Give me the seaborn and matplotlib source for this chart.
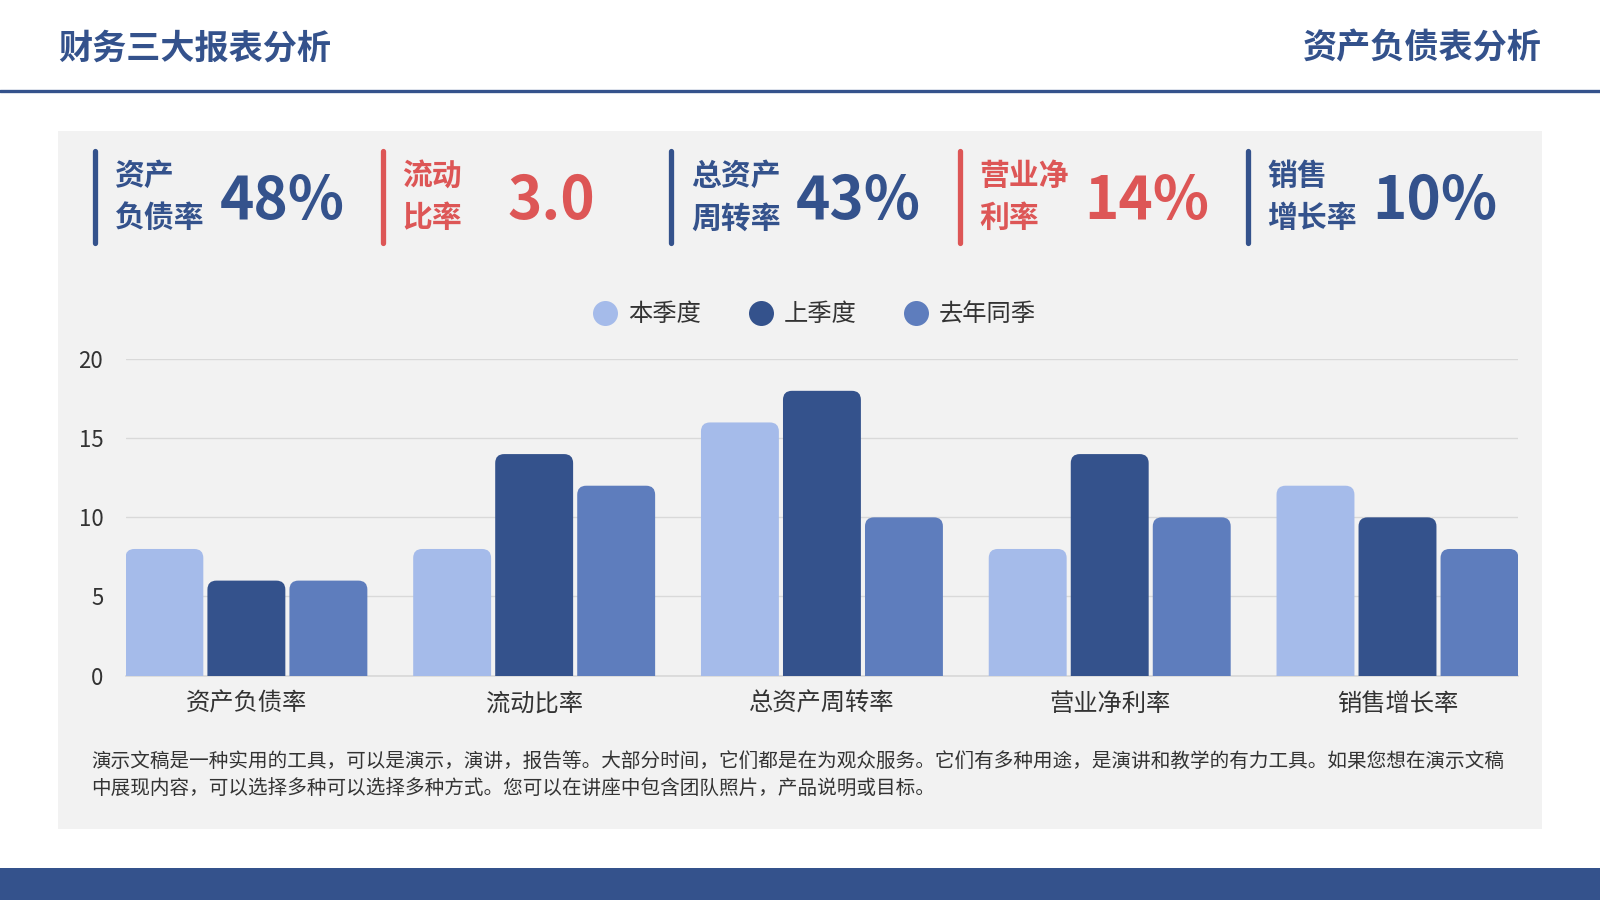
import matplotlib
matplotlib.use("Agg")
import matplotlib.pyplot as plt
import numpy as np
import pandas as pd
import seaborn as sns
from matplotlib.patches import Rectangle, FancyBboxPatch
from matplotlib.lines import Line2D

# data
categories = ["资产负债率", "流动比率", "总资产周转率", "营业净利率", "销售增长率"]
series_names = ["本季度", "上季度", "去年同季"]
this_quarter = [8, 8, 16, 8, 12]
last_quarter = [6, 14, 18, 14, 10]
last_year = [6, 12, 10, 10, 8]

kpi_labels = [("资产", "负债率"), ("流动", "比率"), ("总资产", "周转率"), ("营业净", "利率"), ("销售", "增长率")]
kpi_values = ["48%", "3.0", "43%", "14%", "10%"]

page_title = "财务三大报表分析"
section_title = "资产负债表分析"
note_lines = [
    "演示文稿是一种实用的工具，可以是演示，演讲，报告等。大部分时间，它们都是在为观众服务。它们有多种用途，是演讲和教学的有力工具。如果您想在演示文稿",
    "中展现内容，可以选择多种可以选择多种方式。您可以在讲座中包含团队照片，产品说明或目标。",
]

navy = "#34528c"
red = "#dd5656"
bar_colors = ["#a5bbea", "#34528c", "#5e7dbd"]
panel_gray = "#f2f2f2"
text_dark = "#333333"

sns.set_theme(style="white")
plt.rcParams["font.family"] = ["Noto Sans CJK SC", "DejaVu Sans"]

W, H = 1568, 882


def fx(x):
    return x / W


def fy(y):
    return 1 - y / H


fig = plt.figure(figsize=(16, 9), dpi=100)
fig.patch.set_facecolor("white")

# panel and footer band
fig.add_artist(Rectangle((fx(57), fy(812)), fx(1511) - fx(57), fy(128) - fy(812),
                         facecolor=panel_gray, edgecolor="none", zorder=-2))
fig.add_artist(Rectangle((0, 0), 1, fy(851), facecolor=navy, edgecolor="none", zorder=-2))

# header
fig.text(fx(57), fy(47), page_title, fontsize=24.6, fontweight="bold", color=navy, ha="left", va="center")
fig.text(fx(1511), fy(47), section_title, fontsize=24.6, fontweight="bold", color=navy, ha="right", va="center")
fig.add_artist(Line2D([0, 1], [fy(89), fy(89)], lw=2.4, color=navy))

# KPI strip
for i, ((l1, l2), val) in enumerate(zip(kpi_labels, kpi_values)):
    c = red if i % 2 == 1 else navy
    x0 = 93 + i * 282.5
    fig.add_artist(Line2D([fx(x0), fx(x0)], [fy(148), fy(238)], lw=3.8, color=c))
    fig.text(fx(x0 + 19), fy(172), l1, fontsize=21.5, fontweight="bold", color=c, ha="left", va="center")
    fig.text(fx(x0 + 19), fy(214), l2, fontsize=21.5, fontweight="bold", color=c, ha="left", va="center")
    fig.text(fx(x0 + 122), fy(198), val, fontsize=42, fontweight="bold", color=c, ha="left", va="center")

# bar chart
df = pd.DataFrame({
    "category": categories * 3,
    "series": [s for s in series_names for _ in categories],
    "value": this_quarter + last_quarter + last_year,
})

ax = fig.add_axes([fx(123), fy(662), fx(1488) - fx(123), fy(352) - fy(662)])
ax.set_facecolor("none")
sns.barplot(data=df, x="category", y="value", hue="series", hue_order=series_names,
            palette=bar_colors, saturation=1, width=0.855, gap=0.05, legend=False, ax=ax, zorder=3)

ax.set_xlim(-0.42, 4.42)
ax.set_ylim(0, 20)

# rounded tops
bars = [p for p in ax.patches]
px_x = (fx(1488) - fx(123)) * 1600 / 4.84
px_y = (fy(352) - fy(662)) * 900 / 20
r = 9 / px_x
asp = (9 / px_y) / r
for p in bars:
    x, w, h = p.get_x(), p.get_width(), p.get_height()
    fc = p.get_facecolor()
    p.remove()
    ax.add_patch(FancyBboxPatch((x, -1), w, h + 1, boxstyle=f"round,pad=0,rounding_size={r}",
                                mutation_aspect=asp, facecolor=fc, edgecolor="none", zorder=3))

ax.set_yticks([0, 5, 10, 15, 20])
ax.yaxis.grid(True, color="#d9d9d9", lw=1)
ax.set_axisbelow(True)
for s in ["top", "right", "left"]:
    ax.spines[s].set_visible(False)
ax.spines["bottom"].set_color("#d9d9d9")
ax.tick_params(axis="y", length=0, pad=16, labelsize=16, labelcolor=text_dark)
ax.tick_params(axis="x", length=0, pad=11, labelsize=17.5, labelcolor=text_dark)
ax.set_xlabel("")
ax.set_ylabel("")

handles = [Line2D([], [], marker="o", ls="", markersize=18, markerfacecolor=c, markeredgecolor="none")
           for c in bar_colors]
fig.legend(handles, series_names, loc="center", bbox_to_anchor=(fx(797), fy(308)), ncol=3,
           frameon=False, fontsize=17.5, handletextpad=0.35, columnspacing=1.85,
           labelcolor=text_dark, handlelength=1.2)

# note text
fig.text(fx(89), fy(746), note_lines[0], fontsize=14.1, color=text_dark, ha="left", va="center")
fig.text(fx(89), fy(774), note_lines[1], fontsize=14.1, color=text_dark, ha="left", va="center")

fig.savefig("out.png", dpi=100)
